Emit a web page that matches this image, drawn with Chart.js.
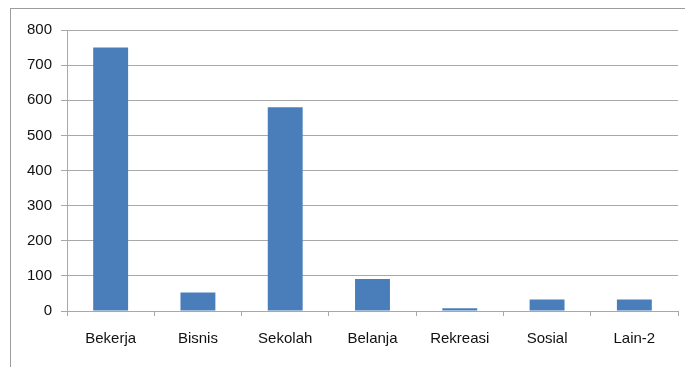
<!DOCTYPE html>
<html>
<head>
<meta charset="utf-8">
<script src="https://cdn.jsdelivr.net/npm/chart.js@4/dist/chart.umd.min.js"></script>
<style>
  html, body { margin: 0; padding: 0; background: #ffffff; }
  #wrap { position: relative; width: 685px; height: 367px; overflow: hidden; }
  #frame { position: absolute; left: 10px; top: 8px; width: 700px; height: 400px;
           border-left: 1px solid #9c9c9c; border-top: 1px solid #9c9c9c; }
  canvas { position: absolute; left: 0; top: 0; }
</style>
</head>
<body>
<div id="wrap">
  <div id="frame"></div>
  <canvas id="c" width="685" height="367"></canvas>
</div>
<script>
// Jumlah perjalanan menurut maksud perjalanan
const categories = ['Bekerja', 'Bisnis', 'Sekolah', 'Belanja', 'Rekreasi', 'Sosial', 'Lain-2'];
const trips = [750, 53, 580, 91, 8, 33, 33];
const yTicks = [0, 100, 200, 300, 400, 500, 600, 700, 800];

const axisFont = { family: "'Liberation Sans', Arial, sans-serif", size: 15 };
const gridColor = '#a8a8a8';

new Chart(document.getElementById('c'), {
  type: 'bar',
  data: {
    labels: categories,
    datasets: [{
      data: trips,
      backgroundColor: '#4a7ebb',
      borderWidth: 0,
      categoryPercentage: 1,
      barPercentage: 0.4
    }]
  },
  options: {
    responsive: false,
    animation: false,
    devicePixelRatio: 1,
    layout: { padding: { left: 0, right: 7, top: 30, bottom: 0 } },
    plugins: { legend: { display: false }, tooltip: { enabled: false } },
    scales: {
      x: {
        grid: { offset: true, drawOnChartArea: false, drawTicks: true, tickLength: 5, color: gridColor },
        border: { color: gridColor, width: 1 },
        ticks: { color: '#111111', font: axisFont, padding: 14, maxRotation: 0 },
        afterFit: s => { s.height = 56; }
      },
      y: {
        min: 0,
        max: 800,
        afterBuildTicks: s => { s.ticks = yTicks.map(v => ({ value: v })); },
        grid: { color: gridColor, drawTicks: true, tickLength: 6 },
        border: { color: gridColor, width: 1 },
        ticks: { color: '#111111', font: axisFont, padding: 9 },
        afterFit: s => { s.width = 67; }
      }
    }
  }
});
</script>
</body>
</html>
